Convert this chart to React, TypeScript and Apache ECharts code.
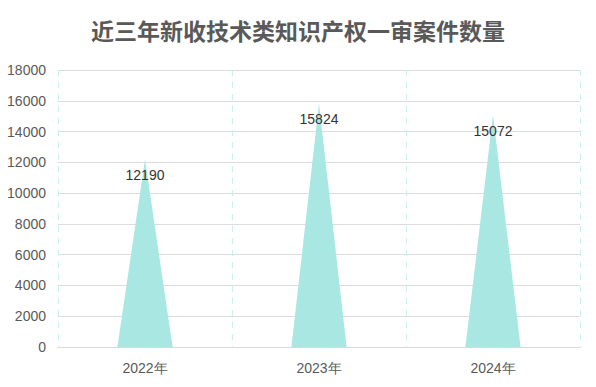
import React, { useEffect, useRef } from "react";
import * as echarts from "echarts";

const titleText = "近三年新收技术类知识产权一审案件数量";
const categories = ["2022年", "2023年", "2024年"];
const values = [12190, 15824, 15072];
const yTicks = { min: 0, max: 18000, interval: 2000 };

export default function App() {
  const ref = useRef<HTMLDivElement>(null);
  useEffect(() => {
    if (!ref.current) return;
    const chart = echarts.init(ref.current, undefined, { renderer: "svg" });
    chart.setOption({
      animation: false,
      backgroundColor: "#ffffff",
      title: {
        text: titleText,
        left: "center",
        top: 13,
        textStyle: {
          fontFamily: "Noto Sans CJK SC",
          fontWeight: "bold",
          fontSize: 23,
          color: "#595959",
        },
      },
      grid: { left: 58, right: 16, top: 70, bottom: 40 },
      xAxis: {
        type: "category",
        data: categories,
        axisTick: { show: false },
        axisLine: { lineStyle: { color: "#d9d9d9" } },
        axisLabel: {
          color: "#595959",
          fontSize: 14,
          fontFamily: "Liberation Sans, Arial, sans-serif",
          margin: 14,
        },
        splitLine: {
          show: true,
          lineStyle: { type: [6, 6], color: "#c9f1ec" },
        },
      },
      yAxis: {
        type: "value",
        min: yTicks.min,
        max: yTicks.max,
        interval: yTicks.interval,
        axisLine: { show: false },
        axisTick: { show: false },
        axisLabel: {
          color: "#595959",
          fontSize: 14,
          fontFamily: "Liberation Sans, Arial, sans-serif",
          margin: 12,
          formatter: (v: number) => String(v),
        },
        splitLine: { lineStyle: { color: "#dcdcdc" } },
      },
      series: [
        {
          type: "pictorialBar",
          data: values,
          symbol: "triangle",
          symbolSize: [55, "100%"],
          itemStyle: { color: "#a9e8e2" },
          label: {
            show: true,
            position: "insideTop",
            distance: 9,
            color: "#333333",
            fontSize: 14,
            fontFamily: "Liberation Sans, Arial, sans-serif",
          },
        },
      ],
    });
    return () => chart.dispose();
  }, []);
  return <div ref={ref} style={{ width: 596, height: 387, position: "fixed", left: 0, top: 0 }} />;
}
